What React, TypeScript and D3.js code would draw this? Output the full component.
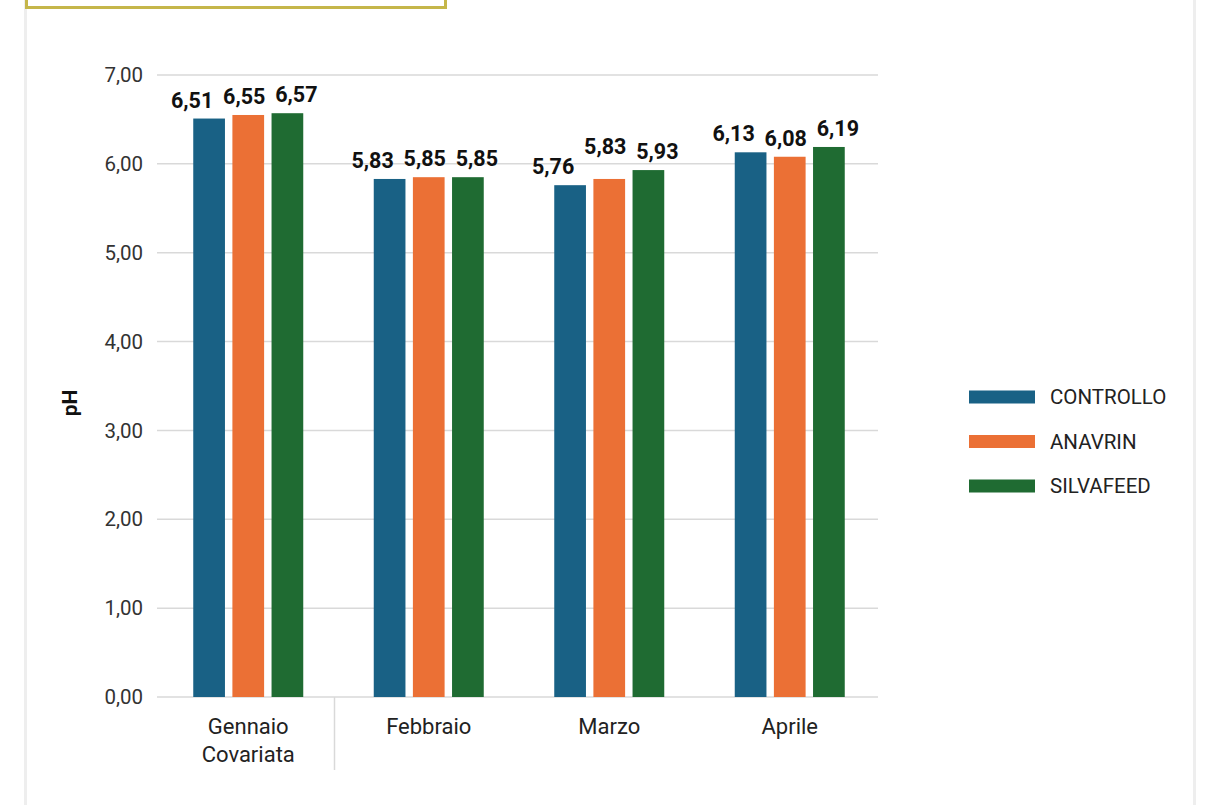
import React from "react";
import * as d3 from "d3";

const categories = ["Gennaio Covariata", "Febbraio", "Marzo", "Aprile"];
const seriesNames = ["CONTROLLO", "ANAVRIN", "SILVAFEED"];
const controllo = [6.51, 5.83, 5.76, 6.13];
const anavrin = [6.55, 5.85, 5.83, 6.08];
const silvafeed = [6.57, 5.85, 5.93, 6.19];
const yTicks = [0, 1, 2, 3, 4, 5, 6, 7];
const colors = ["#196185", "#eb7035", "#1f6b32"];
const labelLift: Record<string, number> = { "Marzo|ANAVRIN": 14 };

const W = 1208;
const H = 805;
const FONT = "Roboto, 'DejaVu Sans', sans-serif";

export default function App() {
  const values = [controllo, anavrin, silvafeed];
  const y = d3.scaleLinear().domain([0, 7]).range([697, 75]);
  const x0 = d3.scaleBand<string>().domain(categories).range([158, 880]).paddingInner(0).paddingOuter(0);
  const groupW = 110;
  const inner = d3.scaleBand<string>().domain(seriesNames).range([0, groupW]).paddingInner(0.19).paddingOuter(0);
  const groupOffset = (x0.bandwidth() - groupW) / 2;
  const fmt = (v: number) => v.toFixed(2).replace(".", ",");
  const gridX1 = 157;
  const gridX2 = 878;
  // labels are spread apart horizontally so they do not collide
  const spread = (si: number) => (si - 1) * 13 - 4;

  return (
    <div style={{ position: "absolute", left: 0, top: 0 }}>
      <svg width={W} height={H} style={{ display: "block", background: "#fff", fontFamily: FONT }}>
        {/* frame */}
        <rect x={24} y={0} width={3} height={H} fill="#eeeeee" />
        <rect x={1193} y={0} width={3} height={H} fill="#eeeeee" />
        <rect x={26.5} y={-10} width={419} height={17.5} fill="none" stroke="#c5b64a" strokeWidth={3} />

        {/* gridlines */}
        {yTicks.map((t) => (
          <g key={t}>
            <line x1={gridX1} x2={gridX2} y1={y(t)} y2={y(t)} stroke="#d9d9d9" strokeWidth={1.5} />
            <text x={143} y={y(t)} dy="0.35em" textAnchor="end" fontSize={20.5} fill="#333">
              {fmt(t)}
            </text>
          </g>
        ))}

        {/* category separator */}
        <line x1={x0("Febbraio")! - 4} x2={x0("Febbraio")! - 4} y1={697} y2={770} stroke="#d9d9d9" strokeWidth={1.5} />

        {/* bars */}
        {categories.map((c, ci) => (
          <g key={c} transform={`translate(${x0(c)! + groupOffset},0)`}>
            {seriesNames.map((s, si) => {
              const v = values[si][ci];
              const bx = inner(s)!;
              const lift = labelLift[`${c}|${s}`] || 0;
              return (
                <g key={s}>
                  <rect x={bx} y={y(v)} width={inner.bandwidth()} height={y(0) - y(v)} fill={colors[si]} />
                  <text
                    x={bx + inner.bandwidth() / 2 + spread(si)}
                    y={y(v) - 11 - lift}
                    textAnchor="middle"
                    fontSize={21.5}
                    fontWeight="bold"
                    fill="#111"
                  >
                    {fmt(v)}
                  </text>
                </g>
              );
            })}
          </g>
        ))}

        {/* category labels */}
        {categories.map((c) => {
          const words = c.split(" ");
          const cx = x0(c)! + x0.bandwidth() / 2;
          return (
            <text key={c} x={cx} y={734} textAnchor="middle" fontSize={22} fill="#222">
              {words.map((w, i) => (
                <tspan key={i} x={cx} dy={i === 0 ? 0 : 28}>
                  {w}
                </tspan>
              ))}
            </text>
          );
        })}

        {/* y axis title */}
        <text transform="translate(77,403) rotate(-90)" textAnchor="middle" fontSize={21} fontWeight="bold" fill="#111">
          pH
        </text>

        {/* legend */}
        {seriesNames.map((s, i) => (
          <g key={s} transform={`translate(969,${397 + i * 44.5})`}>
            <rect x={0} y={-6.5} width={66} height={13} fill={colors[i]} />
            <text x={81} y={0} dy="0.35em" fontSize={20.5} fill="#222">
              {s}
            </text>
          </g>
        ))}
      </svg>
    </div>
  );
}
